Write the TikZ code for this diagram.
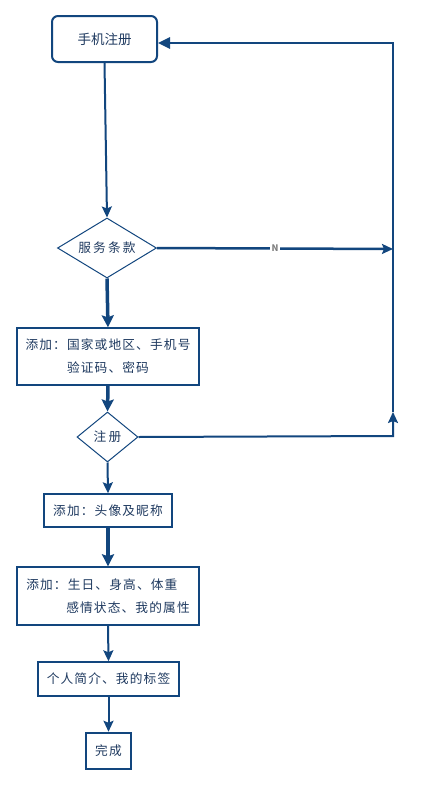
\documentclass[tikz,border=0pt]{standalone}
\usepackage{fontspec}
\setmainfont{Noto Sans CJK SC}
\newfontfamily\spaced[LetterSpace=9]{Noto Sans CJK SC}
\usetikzlibrary{arrows.meta,shapes.geometric}
\definecolor{fc}{HTML}{12467E}
\definecolor{tc}{HTML}{1F3A60}
\tikzset{
  box/.style={draw=fc,line width=1.4pt,fill=white,inner sep=0pt,text=tc,align=center,
    font=\spaced\fontsize{12.7}{23}\selectfont},
  dia/.style={draw=fc,line width=1pt,shape=diamond,inner sep=0pt,text=tc,
    font=\fontsize{12.7}{15}\selectfont},
  conn/.style={draw=fc,line width=2pt,-{Stealth[length=11pt,width=10pt,inset=2pt]}},
  thick conn/.style={draw=fc,line width=3.5pt,-{Stealth[length=12pt,width=12pt,inset=2pt]}},
  loop/.style={draw=fc,line width=2.5pt},
}
\begin{document}
\begin{tikzpicture}[x=1pt,y=-1pt]
\path[fill=white] (0,0) rectangle (426,787);
\node[box,rounded corners=6pt,line width=2pt,minimum width=105pt,minimum height=46pt,font=\fontsize{13.5}{16}\selectfont] (reg) at (104.5,39) {手机注册};
\node[dia,aspect=1.65,minimum width=99pt,minimum height=60pt] (terms) at (107,248) {服\,务\,条\,款};
\node[box,minimum width=182pt,minimum height=57pt] (b1) at (108,356.5) {添加：国家或地区、手机号\\验证码、密码};
\node[dia,aspect=1.22,minimum width=61pt,minimum height=50pt] (zc) at (107.5,437) {注\,册};
\node[box,minimum width=128pt,minimum height=33pt] (b2) at (108,510.5) {添加：头像及昵称};
\node[box,minimum width=182pt,minimum height=58pt,align=left] (b3) at (108,596) {添加：生日、身高、体重\\\hspace{40pt}感情状态、我的属性};
\node[box,minimum width=141pt,minimum height=34pt] (b4) at (108.5,679) {个人简介、我的标签};
\node[box,line width=2.5pt,minimum width=45pt,minimum height=36pt] (done) at (108.5,751) {完成};

\coordinate (rt) at (393,43);
\coordinate (rn) at (393,249);
\coordinate (rup) at (393,412);
\coordinate (rb) at (393,436);

\draw[conn] (reg.south) -- (terms.north);
\draw[conn,line width=2.5pt] (terms.east) -- node[fill=white,text=gray,font=\bfseries\fontsize{9}{10}\selectfont,inner sep=1.5pt] {N} (rn);
\draw[thick conn] (terms.south) -- (b1.north);
\draw[thick conn] (b1.south) -- (zc.north);
\draw[conn,line width=2pt] (zc.east) -- (rb) -- (rup);
\draw[loop,-{Triangle[length=12pt,width=11pt]}] (rup) -- (rt) -- (reg.east |- rt);
\draw[conn] (zc.south) -- (b2.north);
\draw[thick conn] (b2.south) -- (b3.north);
\draw[conn] (b3.south) -- (b4.north);
\draw[conn] (b4.south) -- (done.north);
\end{tikzpicture}
\end{document}
